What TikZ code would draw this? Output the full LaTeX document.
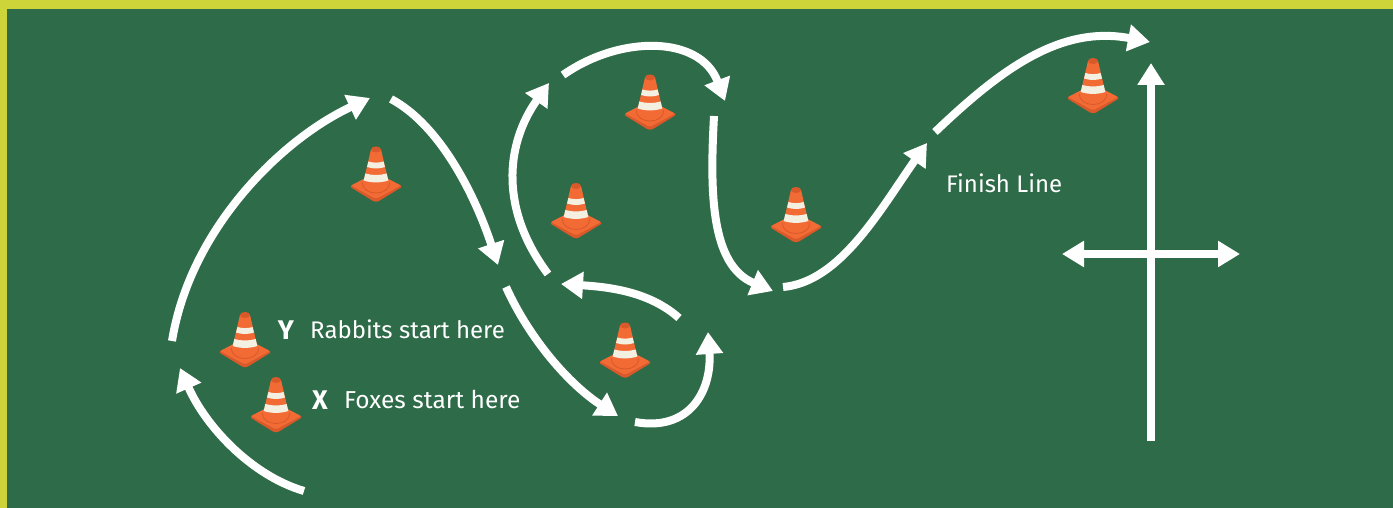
\documentclass[tikz,border=0pt]{standalone}
\usepackage{fontspec}
\setmainfont{Fira Sans}
\usetikzlibrary{arrows.meta}
\definecolor{board}{HTML}{2E6B48}
\definecolor{rim}{HTML}{CDD43A}
\definecolor{coneor}{HTML}{F26B35}
\definecolor{conedk}{HTML}{D9592A}
\definecolor{conewh}{HTML}{F3F0E2}
\tikzset{
  trail/.style={draw=white,line width=8pt,-{Triangle[length=22pt,width=26pt]}},
  axis/.style={draw=white,line width=8.5pt,-{Triangle[length=22pt,width=26pt]}},
  axisb/.style={draw=white,line width=8pt,{Triangle[length=22pt,width=25pt]}-{Triangle[length=22pt,width=25pt]}},
  lab/.style={text=white,font=\fontsize{24}{28}\selectfont,anchor=base west,inner sep=0pt},
  labwide/.style={lab,font=\fontsize{24.5}{28}\selectfont},
  sidemark/.style={text=white,font=\fontsize{27}{30}\selectfont\bfseries,anchor=base,inner sep=0pt},
  pics/trafficcone/.style={code={
    \fill[conedk] (-25,1) -- (-3,14.5) .. controls (-1,15.5) and (1,15.5) .. (3,14.5) -- (25,1) -- (25,-1) -- (0,-10) -- (-25,-1) -- cycle;
    \fill[coneor,rounded corners=2pt] (-25,-1) -- (0,-14) -- (25,-1) -- (0,12.5) -- cycle;
    \draw[conedk,line width=.8pt] (-13.5,-4) .. controls (-14,10) and (14,10) .. (13.5,-4);
    \fill[coneor] (-5,-37) -- (5,-37) -- (12.5,-5) .. controls (6,-1) and (-6,-1) .. (-12.5,-5) -- cycle;
    \fill[conedk] (0,-37) ellipse (5 and 3);
    \fill[conewh] (-7.6,-25) .. controls (-3,-23.5) and (3,-23.5) .. (7.6,-25) -- (9,-19.5) .. controls (3,-17.5) and (-3,-17.5) .. (-9,-19.5) -- cycle;
    \fill[conewh] (-10.7,-13) .. controls (-4,-11) and (4,-11) .. (10.7,-13) -- (12.3,-6) .. controls (5,-3.5) and (-5,-3.5) .. (-12.3,-6) -- cycle;
  }}
}
\begin{document}
\begin{tikzpicture}[x=1pt,y=-1pt]
\useasboundingbox (0,0) rectangle (1393,508);
\fill[rim] (0,0) rectangle (1393,508);
\fill[board] (7,9) rectangle (1393,508);

\foreach \n/\p in {a/{245,352},b/{276,417},c/{376,186.5},d/{650,114.5},e/{576,223},f/{796,227},g/{625,362.5},h/{1093,98}}
  \pic (cone\n) at (\p) {trafficcone};

\coordinate (a0) at (304,491); \coordinate (a1) at (180,368);
\coordinate (b0) at (172,341); \coordinate (b1) at (370,98);
\coordinate (c0) at (391,99);  \coordinate (c1) at (498,265);
\coordinate (d0) at (506,287); \coordinate (d1) at (618,416);
\coordinate (e0) at (635,422); \coordinate (e1) at (708,332);
\coordinate (f0) at (679,318); \coordinate (f1) at (561,284);
\coordinate (g0) at (548,274); \coordinate (g1) at (549,83);
\coordinate (h0) at (563,75);  \coordinate (h1) at (725,101);
\coordinate (i0) at (714,116); \coordinate (i1) at (773,291);
\coordinate (j0) at (783,287); \coordinate (j1) at (927,143);
\coordinate (k0) at (935,132); \coordinate (k1) at (1150,42);
\coordinate (v0) at (1151,441); \coordinate (v1) at (1151,63);
\coordinate (w0) at (1062,254); \coordinate (w1) at (1240,254);

\draw[trail] (a0) .. controls (250,475) and (205,425) .. (a1);
\draw[trail] (b0) .. controls (190,230) and (280,140) .. (b1);
\draw[trail] (c0) .. controls (440,125) and (475,195) .. (c1);
\draw[trail] (d0) .. controls (530,340) and (570,385) .. (d1);
\draw[trail] (e0) .. controls (690,432) and (712,390) .. (e1);
\draw[trail] (f0) .. controls (650,292) and (610,287) .. (f1);
\draw[trail] (g0) .. controls (500,210) and (505,145) .. (g1);
\draw[trail] (h0) .. controls (620,35) and (700,35) .. (h1);
\draw[trail] (i0) .. controls (710,190) and (710,265) .. (i1);
\draw[trail] (j0) .. controls (840,282) and (880,210) .. (j1);
\draw[trail] (k0) .. controls (1000,70) and (1060,25) .. (k1);
\draw[axis] (v0) -- (v1);
\draw[axisb] (w0) -- (w1);

\node[sidemark] (ym) at (286,339) {Y};
\node[lab] (yt) at (310,338) {Rabbits start here};
\node[sidemark] (xm) at (320,409) {X};
\node[labwide] (xt) at (344,408) {Foxes start here};
\node[lab] (fl) at (946,192.5) {Finish Line};
\end{tikzpicture}
\end{document}
